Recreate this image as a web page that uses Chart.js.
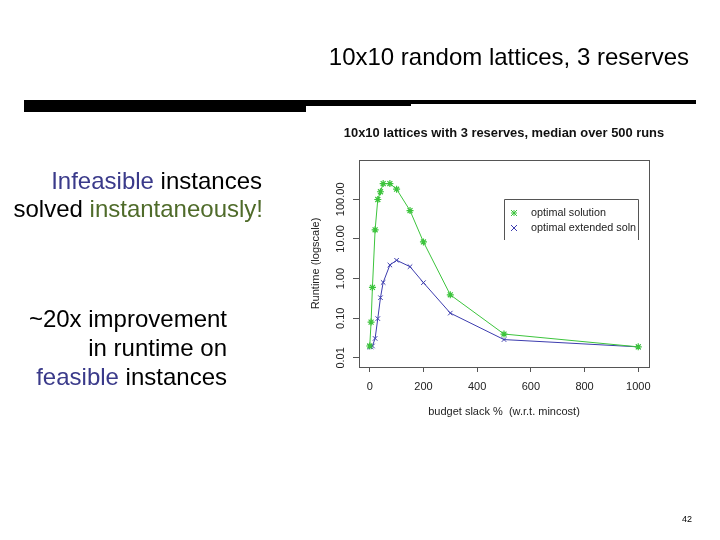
<!DOCTYPE html>
<html>
<head>
<meta charset="utf-8">
<script src="https://cdn.jsdelivr.net/npm/chart.js@4/dist/chart.umd.min.js"></script>
<style>
  html, body { margin:0; padding:0; background:#fff; }
  #wrap { position:relative; width:720px; height:540px; overflow:hidden; font-family:"Liberation Sans", Arial, sans-serif; }
  #c { position:absolute; left:0; top:0; }
  .t { position:absolute; white-space:nowrap; color:#000; font-size:24px; line-height:28px; }
  .bar { position:absolute; background:#000; }
  .blue { color:#3a3a8a; }
  .olive { color:#4f6b2a; }
</style>
</head>
<body>
<div id="wrap">
  <canvas id="c" width="720" height="540"></canvas>
  <div class="t" style="right:31px; top:43px;">10x10 random lattices, 3 reserves</div>
  <div class="bar" style="left:24px; top:100px; width:282px; height:12px;"></div>
  <div class="bar" style="left:305px; top:100px; width:106px; height:6px;"></div>
  <div class="bar" style="left:410px; top:100px; width:286px; height:4px;"></div>
  <div class="t" style="right:458px; top:167px; text-align:right;"><span class="blue">Infeasible</span> instances</div>
  <div class="t" style="right:457px; top:195px; text-align:right;">solved <span class="olive">instantaneously!</span></div>
  <div class="t" style="right:493px; top:305px; text-align:right;">~20x improvement</div>
  <div class="t" style="right:493px; top:334px; text-align:right;">in runtime on</div>
  <div class="t" style="right:493px; top:363px; text-align:right;"><span class="blue">feasible</span> instances</div>
  <div class="t" style="left:682px; top:513px; font-size:9px; line-height:12px;">42</div>
</div>
<script>
// ---- data ----
const budgetSlack = [0, 5, 10, 20, 30, 40, 50, 75, 100, 150, 200, 300, 500, 1000];
const optimalSolution = [0.02, 0.08, 0.6, 17, 99, 155, 250, 250, 180, 52, 8.4, 0.39, 0.04, 0.019];
const optimalExtended = [0.019, 0.019, 0.02, 0.031, 0.098, 0.33, 0.8, 2.2, 2.9, 2.0, 0.79, 0.135, 0.029, 0.019];
const xTickValues = [0, 200, 400, 600, 800, 1000];
const yTickValues = [0.01, 0.1, 1, 10, 100];
const yTickLabels = ['0.01', '0.10', '1.00', '10.00', '100.00'];
const seriesNames = ['optimal solution', 'optimal extended soln'];
const chartTitle = '10x10 lattices with 3 reserves, median over 500 runs';
const xTitle = 'budget slack %  (w.r.t. mincost)';
const yTitle = 'Runtime (logscale)';

const GREEN = '#3cc43c';
const BLUE = '#3c3cae';
const FONT = '"Liberation Sans", Arial, Helvetica, sans-serif';

const toPts = arr => budgetSlack.map((x, i) => ({ x: x, y: arr[i] }));

const framePlugin = {
  id: 'frameAndExtras',
  afterDraw(chart) {
    const ctx = chart.ctx;
    const a = chart.chartArea;
    ctx.save();
    // chart title, centred over the plot region
    ctx.fillStyle = '#111';
    ctx.font = 'bold 12.9px ' + FONT;
    ctx.textAlign = 'center';
    ctx.textBaseline = 'middle';
    ctx.fillText(chartTitle, (a.left + a.right) / 2, 133);
    // plot box
    ctx.strokeStyle = '#555';
    ctx.lineWidth = 1;
    ctx.strokeRect(Math.round(a.left) + 0.5, Math.round(a.top) + 0.5,
                   Math.round(a.right - a.left), Math.round(a.bottom - a.top));
    // rotated y tick labels
    const ys = chart.scales.y;
    ctx.fillStyle = '#222';
    ctx.font = '11px ' + FONT;
    ctx.textAlign = 'center';
    ctx.textBaseline = 'middle';
    yTickValues.forEach((v, i) => {
      const py = ys.getPixelForValue(v);
      ctx.save();
      ctx.translate(341, py);
      ctx.rotate(-Math.PI / 2);
      ctx.fillText(yTickLabels[i], 0, 0);
      ctx.restore();
    });
    // legend box (three edges visible as in reference)
    const lx = 504.5, ly = 199.5, lr = 638.5, lb = 240;
    ctx.strokeStyle = '#555';
    ctx.beginPath();
    ctx.moveTo(lx, lb); ctx.lineTo(lx, ly); ctx.lineTo(lr, ly); ctx.lineTo(lr, lb);
    ctx.stroke();
    ctx.font = '10.8px ' + FONT;
    ctx.textAlign = 'left';
    chart.data.datasets.forEach((ds, i) => {
      const yy = 213 + i * 15;
      ctx.fillStyle = '#222';
      ctx.fillText(ds.label, 531, yy);
      ctx.strokeStyle = ds.borderColor;
      ctx.lineWidth = 1;
      const r = 3;
      const mx = 514;
      ctx.beginPath();
      ctx.moveTo(mx - r, yy - r); ctx.lineTo(mx + r, yy + r);
      ctx.moveTo(mx - r, yy + r); ctx.lineTo(mx + r, yy - r);
      if (ds.pointStyle === 'star') {
        ctx.moveTo(mx - r, yy); ctx.lineTo(mx + r, yy);
        ctx.moveTo(mx, yy - r); ctx.lineTo(mx, yy + r);
      }
      ctx.stroke();
    });
    ctx.restore();
  }
};

new Chart(document.getElementById('c'), {
  type: 'line',
  data: {
    datasets: [
      {
        label: seriesNames[0], data: toPts(optimalSolution),
        borderColor: GREEN, backgroundColor: GREEN, borderWidth: 1,
        pointStyle: 'star', pointRadius: 3.5, pointBorderWidth: 1.2,
        pointBorderColor: GREEN, tension: 0, fill: false
      },
      {
        label: seriesNames[1], data: toPts(optimalExtended),
        borderColor: BLUE, backgroundColor: BLUE, borderWidth: 1,
        pointStyle: 'crossRot', pointRadius: 3.2, pointBorderWidth: 1,
        pointBorderColor: BLUE, tension: 0, fill: false
      }
    ]
  },
  options: {
    responsive: false,
    animation: false,
    layout: { padding: { left: 309, top: 160, right: 71, bottom: 117 } },
    plugins: {
      legend: { display: false },
      tooltip: { enabled: false },
      title: { display: false }
    },
    scales: {
      x: {
        type: 'linear', min: -40, max: 1040,
        afterBuildTicks: s => { s.ticks = xTickValues.map(v => ({ value: v })); },
        afterFit: s => { s.height = 56; },
        grid: { drawOnChartArea: false, drawTicks: true, tickLength: 5, color: '#555' },
        border: { display: false },
        ticks: {
          autoSkip: false, maxRotation: 0, padding: 8, color: '#222',
          font: { family: FONT, size: 11 }, callback: v => String(v)
        },
        title: {
          display: true, text: xTitle, color: '#222',
          font: { family: FONT, size: 11 }, padding: { top: 0, bottom: 4 }
        }
      },
      y: {
        type: 'logarithmic', min: 0.0059, max: 980,
        afterBuildTicks: s => { s.ticks = yTickValues.map(v => ({ value: v })); },
        afterFit: s => { s.width = 50; },
        grid: { drawOnChartArea: false, drawTicks: true, tickLength: 6, color: '#555' },
        border: { display: false },
        ticks: { display: false },
        title: {
          display: true, text: yTitle, color: '#222',
          font: { family: FONT, size: 11 }, padding: { top: 0, bottom: 0 }
        }
      }
    }
  },
  plugins: [framePlugin]
});
</script>
</body>
</html>
